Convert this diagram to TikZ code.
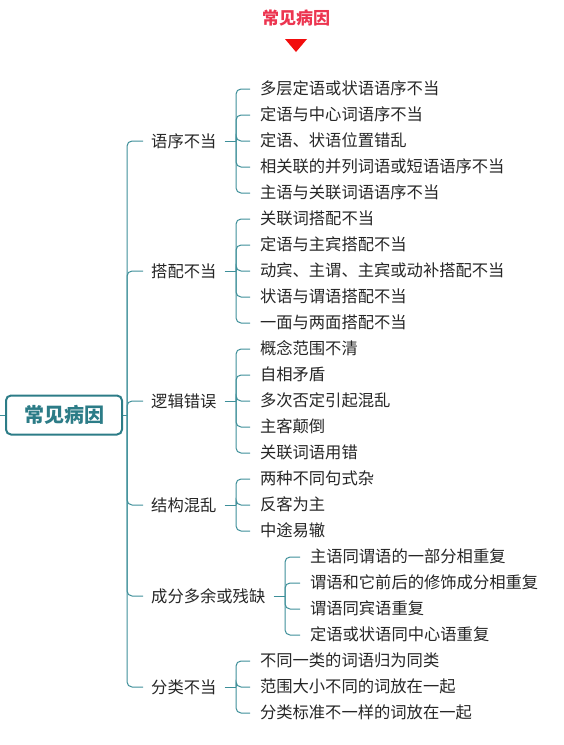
\documentclass[tikz,border=0pt]{standalone}
\usepackage{fontspec}
\setmainfont{Noto Sans CJK SC}
\usetikzlibrary{positioning}
\definecolor{mapteal}{HTML}{3E8F99}
\definecolor{rootteal}{HTML}{2C7C87}
\definecolor{titlered}{HTML}{EC3550}
\definecolor{arrowred}{HTML}{F20D0D}
\definecolor{leafgray}{HTML}{262626}

\begin{document}
\begin{tikzpicture}[
        x=1pt, y=-1pt,
        rootbox/.style={rectangle, draw=rootteal, line width=2pt, rounded corners=5pt, minimum width=116pt, minimum height=39pt, text=rootteal, font=\fontsize{20}{20}\selectfont\bfseries},
        cat/.style={anchor=west, inner xsep=8pt, text=leafgray, font=\fontsize{16.3}{16.3}\selectfont},
        leaf/.style={text width=250pt, align=left, inner xsep=10pt, inner ysep=0pt, outer sep=0pt, text height=13pt, text depth=2pt, minimum height=26pt, text=leafgray, font=\fontsize{16.3}{16.3}\selectfont},
        branch/.style={draw=mapteal, line width=1pt, rounded corners=5pt},
        node distance=0pt
        ]
        \useasboundingbox (0,0) rectangle (563,745);

        % Title
        \node (title) [text=titlered, font=\fontsize{17}{17}\selectfont\bfseries] at (296,18) {常见病因};
        \fill [arrowred] (285,39) -- (307,39) -- (296,52) -- cycle;

        % Root and groups
        \node (root) [rootbox] at (64,415) {常见病因};
        \node (cat1) [cat] at (143,141) {语序不当};
        \node (cat2) [cat] at (143,271) {搭配不当};
        \node (cat3) [cat] at (143,401) {逻辑错误};
        \node (cat4) [cat] at (143,505) {结构混乱};
        \node (cat5) [cat] at (143,596) {成分多余或残缺};
        \node (cat6) [cat] at (143,687) {分类不当};

        % Leaves
        \node (a1) [leaf, anchor=west] at (250,89) {多层定语或状语语序不当};
        \node (a2) [leaf, below=of a1] {定语与中心词语序不当};
        \node (a3) [leaf, below=of a2] {定语、状语位置错乱};
        \node (a4) [leaf, below=of a3] {相关联的并列词语或短语语序不当};
        \node (a5) [leaf, below=of a4] {主语与关联词语语序不当};
        \node (b1) [leaf, below=of a5] {关联词搭配不当};
        \node (b2) [leaf, below=of b1] {定语与主宾搭配不当};
        \node (b3) [leaf, below=of b2] {动宾、主谓、主宾或动补搭配不当};
        \node (b4) [leaf, below=of b3] {状语与谓语搭配不当};
        \node (b5) [leaf, below=of b4] {一面与两面搭配不当};
        \node (c1) [leaf, below=of b5] {概念范围不清};
        \node (c2) [leaf, below=of c1] {自相矛盾};
        \node (c3) [leaf, below=of c2] {多次否定引起混乱};
        \node (c4) [leaf, below=of c3] {主客颠倒};
        \node (c5) [leaf, below=of c4] {关联词语用错};
        \node (d1) [leaf, below=of c5] {两种不同句式杂};
        \node (d2) [leaf, below=of d1] {反客为主};
        \node (d3) [leaf, below=of d2] {中途易辙};
        \node (e1) [leaf, below=of d3, xshift=50pt] {主语同谓语的一部分相重复};
        \node (e2) [leaf, below=of e1] {谓语和它前后的修饰成分相重复};
        \node (e3) [leaf, below=of e2] {谓语同宾语重复};
        \node (e4) [leaf, below=of e3] {定语或状语同中心语重复};
        \node (f1) [leaf, below=of e4, xshift=-50pt] {不同一类的词语归为同类};
        \node (f2) [leaf, below=of f1] {范围大小不同的词放在一起};
        \node (f3) [leaf, below=of f2] {分类标准不一样的词放在一起};

        % Trunk
        \coordinate (lstub) at (0,415);
        \coordinate (trunk) at (127,415);
        \draw [branch] (lstub) -- (root.west);
        \draw [branch] (root.east) -- (trunk);
        \foreach \i in {1,...,6} \draw [branch] (trunk) |- (cat\i.west);

        % Brackets
        \coordinate (ba) at (236,141);
        \coordinate (bb) at (236,271);
        \coordinate (bc) at (236,401);
        \coordinate (bd) at (236,505);
        \coordinate (be) at (285,596);
        \coordinate (bf) at (236,687);
        \draw [branch] (cat1.east) -- (ba);
        \draw [branch] (cat2.east) -- (bb);
        \draw [branch] (cat3.east) -- (bc);
        \draw [branch] (cat4.east) -- (bd);
        \draw [branch] (cat5.east) -- (be);
        \draw [branch] (cat6.east) -- (bf);
        \foreach \i in {1,...,5} \draw [branch] (ba) |- (a\i.west);
        \foreach \i in {1,...,5} \draw [branch] (bb) |- (b\i.west);
        \foreach \i in {1,...,5} \draw [branch] (bc) |- (c\i.west);
        \foreach \i in {1,...,3} \draw [branch] (bd) |- (d\i.west);
        \foreach \i in {1,...,4} \draw [branch] (be) |- (e\i.west);
        \foreach \i in {1,...,3} \draw [branch] (bf) |- (f\i.west);

    \end{tikzpicture}
\end{document}
